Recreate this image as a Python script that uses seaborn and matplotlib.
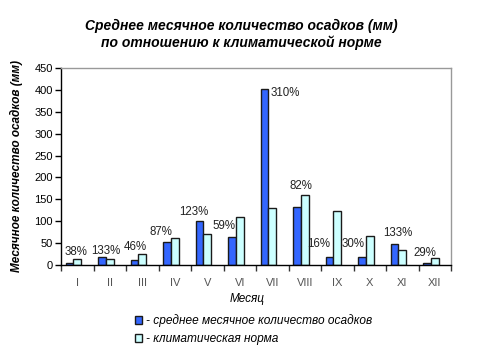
import matplotlib
matplotlib.use("Agg")
import matplotlib.pyplot as plt
import seaborn as sns
import pandas as pd

# ---- data ----
months = ["I", "II", "III", "IV", "V", "VI", "VII", "VIII", "IX", "X", "XI", "XII"]
precip = [5, 19, 11, 53, 101, 64, 402, 132, 19, 19, 47, 4]
norm = [13, 14, 24, 61, 71, 110, 130, 161, 123, 67, 34, 17]
pct_labels = ["38%", "133%", "46%", "87%", "123%", "59%", "310%", "82%", "16%", "30%", "133%", "29%"]
series_names = ["- среднее месячное количество осадков", "- климатическая норма"]

# label anchor positions (layout)
lab_x = [-0.045, 0.885, 1.798, 2.562, 3.592, 4.509, 6.402, 6.878, 7.438, 8.494, 9.869, 10.70]
lab_y = [30.4, 32.0, 41.8, 76.0, 121.8, 89.8, 392.0, 180.5, 47.3, 47.3, 72.4, 28.1]

sns.set_style("white")
plt.rcParams["font.family"] = ["Liberation Sans", "DejaVu Sans"]
plt.rcParams["text.color"] = "black"
plt.rcParams["axes.labelcolor"] = "black"
plt.rcParams["xtick.color"] = "black"
plt.rcParams["ytick.color"] = "black"

rows = []
for m, p, n in zip(months, precip, norm):
    rows.append((m, "a", p))
    rows.append((m, "b", n))
    rows.append((m, "c", 0))
df = pd.DataFrame(rows, columns=["month", "series", "value"])

fig = plt.figure(figsize=(4.8, 3.49), dpi=100)
ax = fig.add_axes([61 / 480, 84 / 349, 390 / 480, 197 / 349])

palette = {"a": "#3366FF", "b": "#CCFFFF", "c": "white"}
sns.barplot(data=df, x="month", y="value", hue="series", order=months,
            hue_order=["a", "b", "c"], palette=palette, width=0.70,
            edgecolor="#1a1a1a", linewidth=1.0, saturation=1, legend=False, ax=ax)
for patch in ax.containers[2]:
    patch.set_visible(False)

ax.set_xlim(-0.5, 11.5)
ax.set_ylim(0, 450)
ax.set_yticks(range(0, 451, 50))
ax.set_xlabel("")
ax.set_ylabel("")

ax.tick_params(axis="y", which="major", direction="out", length=4, width=1,
               color="black", labelsize=8, pad=2, left=True, labelcolor="black")
ax.tick_params(axis="x", which="major", length=0, labelsize=8, pad=9, labelcolor="#555555")
ax.set_xticks([i - 0.5 for i in range(13)], minor=True)
ax.tick_params(axis="x", which="minor", direction="out", length=4, width=1,
               color="#333333", bottom=True)

for s in ["left", "bottom"]:
    ax.spines[s].set_color("black")
    ax.spines[s].set_linewidth(1)
for s in ["top", "right"]:
    ax.spines[s].set_color("#999999")
    ax.spines[s].set_linewidth(1)

for t, x, y in zip(pct_labels, lab_x, lab_y):
    ax.text(x, y, t, ha="center", va="center", fontsize=8.3, color="#222222")

ax.set_ylabel("Месячное количество осадков (мм)", fontsize=8.5,
              fontweight="bold", fontstyle="italic", color="black")
ax.yaxis.set_label_coords(-0.097, 0.5)

fig.text(247 / 480, 1 - 299 / 349, "Месяц", ha="center", va="center",
         fontsize=8.5, fontstyle="italic", color="black")

fig.text(241 / 480, 1 - 26 / 349, "Среднее месячное количество осадков (мм)",
         ha="center", va="center", fontsize=10, fontweight="bold", fontstyle="italic",
         color="black")
fig.text(241 / 480, 1 - 43 / 349, "по отношению к климатической норме",
         ha="center", va="center", fontsize=10, fontweight="bold", fontstyle="italic",
         color="black")

handles = [ax.containers[0][0], ax.containers[1][0]]
leg = fig.legend(handles, series_names, loc="upper left",
                 bbox_to_anchor=(135 / 480, 1 - 314 / 349), frameon=False,
                 handlelength=0.6, handleheight=0.6, handletextpad=0.3,
                 labelspacing=0.55, prop={"size": 8.6, "style": "italic"},
                 borderaxespad=0, borderpad=0)
for txt in leg.get_texts():
    txt.set_color("black")

fig.savefig("out.png", dpi=100)
